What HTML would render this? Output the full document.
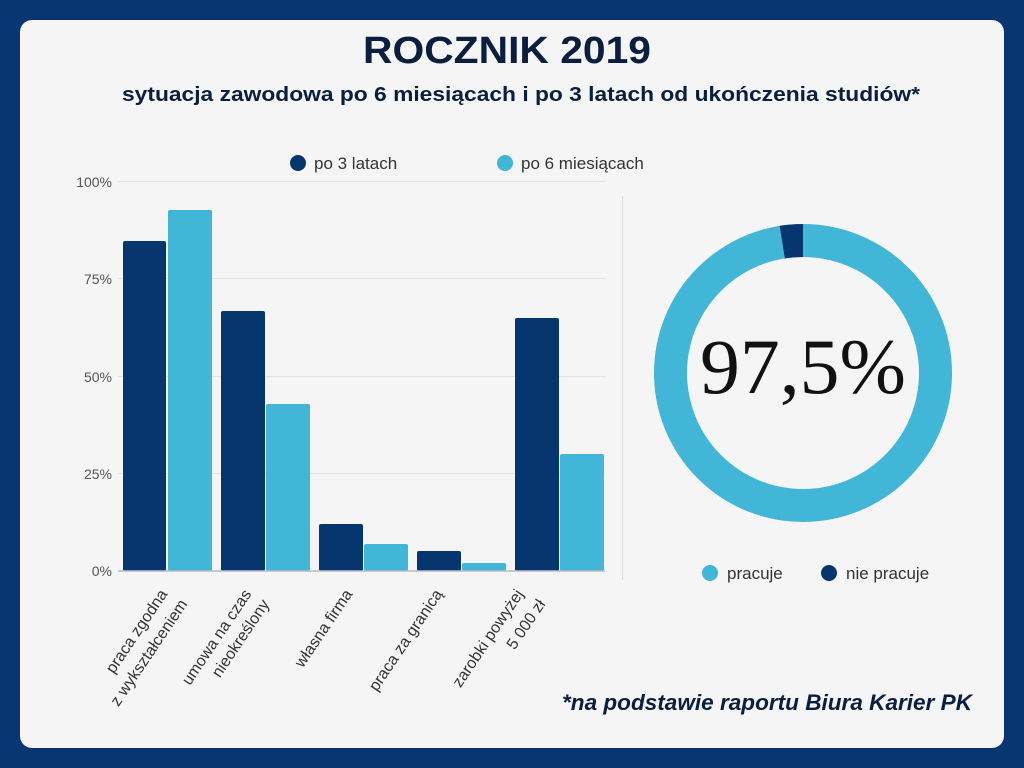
<!DOCTYPE html>
<html><head><meta charset="utf-8"><style>
body{margin:0;width:1024px;height:768px;background:#073673;overflow:hidden;font-family:"Liberation Sans",sans-serif}
.card{position:absolute;left:20px;top:20px;width:984px;height:728px;background:#f5f5f5;border-radius:12px}
</style></head><body>
<div class="card"></div>
<svg width="1024" height="768" style="position:absolute;left:0;top:0" font-family="Liberation Sans, sans-serif">
<text x="507" y="63" text-anchor="middle" font-size="38" font-weight="bold" fill="#0b1e3f" font-family="Liberation Sans Narrow, Liberation Sans, sans-serif" textLength="288" lengthAdjust="spacingAndGlyphs">ROCZNIK 2019</text>
<text x="521" y="101" text-anchor="middle" font-size="20" font-weight="bold" fill="#0b1e3f" textLength="798" lengthAdjust="spacingAndGlyphs">sytuacja zawodowa po 6 miesiącach i po 3 latach od ukończenia studiów*</text>
<circle cx="298" cy="163" r="8" fill="#07366f"/><text x="314" y="169" font-size="17" fill="#333">po 3 latach</text>
<circle cx="505" cy="163" r="8" fill="#42b6d6"/><text x="521" y="169" font-size="17" fill="#333">po 6 miesiącach</text>
<g stroke="#e2e2e2" stroke-width="1">
<line x1="118" x2="605" y1="181.5" y2="181.5"/><line x1="118" x2="605" y1="278.5" y2="278.5"/><line x1="118" x2="605" y1="376.5" y2="376.5"/><line x1="118" x2="605" y1="473.5" y2="473.5"/>
</g>
<g font-size="14" fill="#555" text-anchor="end">
<text x="112" y="187">100%</text><text x="112" y="284">75%</text><text x="112" y="382">50%</text><text x="112" y="479">25%</text><text x="112" y="576">0%</text>
</g>
<g fill="#07366f">
<rect x="123" y="241" width="43" height="330" rx="2"/><rect x="221" y="311" width="44" height="260" rx="2"/><rect x="319" y="524" width="44" height="47" rx="2"/><rect x="417" y="551" width="44" height="20" rx="2"/><rect x="515" y="318" width="44" height="253" rx="2"/>
</g>
<g fill="#42b6d6">
<rect x="168" y="210" width="44" height="361" rx="2"/><rect x="266" y="404" width="44" height="167" rx="2"/><rect x="364" y="544" width="44" height="27" rx="2"/><rect x="462" y="563" width="44" height="8" rx="2"/><rect x="560" y="454" width="44" height="117" rx="2"/>
</g>
<line x1="118" x2="605" y1="571" y2="571" stroke="#b8bcc8" stroke-width="1.5"/>
<g font-size="16" fill="#333" text-anchor="end">
<text transform="translate(168,594) rotate(-56)">praca zgodna</text>
<text transform="translate(188,604) rotate(-56)">z wykształceniem</text>
<text transform="translate(252,594) rotate(-56)">umowa na czas</text>
<text transform="translate(270,604) rotate(-56)">nieokreślony</text>
<text transform="translate(353,594) rotate(-56)">własna firma</text>
<text transform="translate(443,594) rotate(-56)">praca za granicą</text>
<text transform="translate(524,594) rotate(-56)">zarobki powyżej</text>
<text transform="translate(546,604) rotate(-56)">5 000 zł</text>
</g>
<line x1="622.5" x2="622.5" y1="196" y2="580" stroke="#ddd"/>
<circle cx="803" cy="373" r="132.5" fill="none" stroke="#42b6d6" stroke-width="33"/>
<circle cx="803" cy="373" r="132.5" fill="none" stroke="#07366f" stroke-width="33" stroke-dasharray="20.8 1000" transform="rotate(-99 803 373)"/>
<text x="803" y="393" text-anchor="middle" font-family="Liberation Serif, serif" font-size="78" fill="#111" textLength="206" lengthAdjust="spacingAndGlyphs">97,5%</text>
<circle cx="710" cy="573" r="8" fill="#42b6d6"/><text x="727" y="579" font-size="17" fill="#333">pracuje</text>
<circle cx="829" cy="573" r="8" fill="#07366f"/><text x="846" y="579" font-size="17" fill="#333">nie pracuje</text>
<text x="972" y="710" text-anchor="end" font-size="22" font-weight="bold" font-style="italic" fill="#0b1e3f" textLength="410" lengthAdjust="spacingAndGlyphs">*na podstawie raportu Biura Karier PK</text>
</svg>
</body></html>
